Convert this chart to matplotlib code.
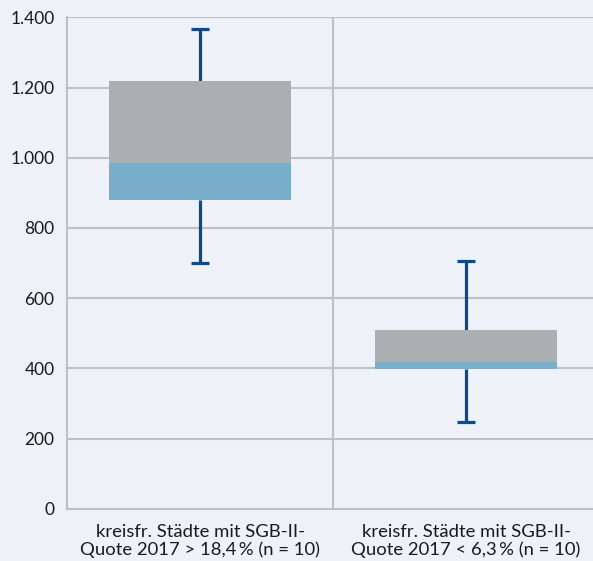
import matplotlib.pyplot as plt

plt.rcParams['font.family'] = ['Lato', 'DejaVu Sans']

# Daten
kategorien = ["kreisfr. Städte mit SGB-II-\nQuote 2017 > 18,4\u2009% (n = 10)",
              "kreisfr. Städte mit SGB-II-\nQuote 2017 < 6,3\u2009% (n = 10)"]
minimum = [699, 246]
q1 = [879, 399]
median = [985, 418]
q3 = [1218, 509]
maximum = [1366, 705]
yticks = [0, 200, 400, 600, 800, 1000, 1200, 1400]

bg = '#eef1f8'
grau = '#abafb2'
blau = '#78aec9'
dunkelblau = '#0b4a8c'
gitter = '#bfc0c3'

fig = plt.figure(figsize=(5.93, 5.61), dpi=100)
fig.patch.set_facecolor(bg)
ax = fig.add_axes([67 / 593, 1 - 508.7 / 561, 532 / 593, 491.4 / 561])
ax.set_facecolor(bg)

x = list(range(len(kategorien)))
breite = 0.684

# Whisker
for i in x:
    ax.vlines(i, minimum[i], q1[i], color=dunkelblau, lw=2.3, zorder=2)
    ax.vlines(i, q3[i], maximum[i], color=dunkelblau, lw=2.3, zorder=2)
    ax.hlines([minimum[i], maximum[i]], i - 0.034, i + 0.034, color=dunkelblau, lw=2.3, zorder=2)

# Box: unterer Teil blau, oberer Teil grau
ax.bar(x, [median[i] - q1[i] for i in x], bottom=q1, width=breite, color=blau, zorder=3)
ax.bar(x, [q3[i] - median[i] for i in x], bottom=median, width=breite, color=grau, zorder=3)

ax.set_xlim(-0.5, 1.5)
ax.set_ylim(0, 1400)
ax.set_yticks(yticks)
ax.set_yticklabels([f"{v:,}".replace(",", ".") for v in yticks])
ax.set_xticks(x)
ax.set_xticklabels(kategorien, linespacing=1.12, fontsize=13.3)

for v in yticks[1:]:
    ax.axhline(v, color=gitter, lw=1.5, zorder=1)
ax.axvline(0.5, color=gitter, lw=1.5, zorder=1)

for s in ['top', 'right']:
    ax.spines[s].set_visible(False)
for s in ['left', 'bottom']:
    ax.spines[s].set_color(gitter)
    ax.spines[s].set_linewidth(1.5)

ax.tick_params(axis='y', length=0, labelsize=12.5, colors='#1a1a1a', pad=9)
ax.tick_params(axis='x', length=0, colors='#1a1a1a', pad=11)

fig.savefig('out.png', dpi=100, facecolor=bg)
